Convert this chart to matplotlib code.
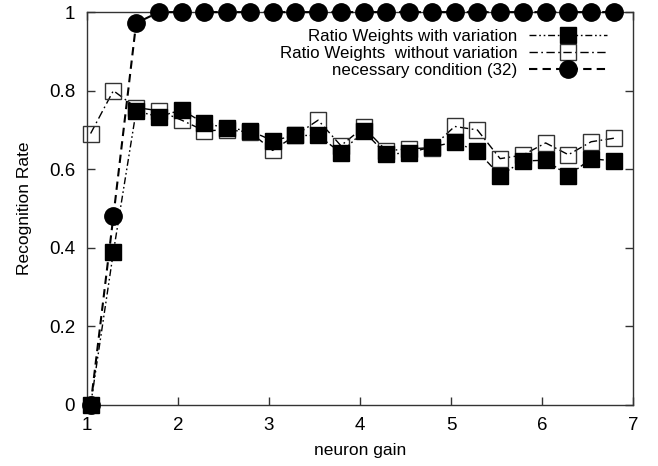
import numpy as np
import matplotlib
matplotlib.use("Agg")
import matplotlib.pyplot as plt
from matplotlib.ticker import FixedLocator, FixedFormatter

plt.rcParams['font.family'] = ['Liberation Sans', 'DejaVu Sans']

# neuron gain values
gain = [1.04, 1.29, 1.54, 1.79, 2.04, 2.29, 2.54, 2.79, 3.04, 3.29, 3.54, 3.79,
        4.04, 4.29, 4.54, 4.79, 5.04, 5.29, 5.54, 5.79, 6.04, 6.29, 6.54, 6.79]

with_var = [0.0, 0.389, 0.748, 0.734, 0.751, 0.717, 0.705, 0.698, 0.673, 0.686, 0.686, 0.642,
            0.697, 0.638, 0.642, 0.657, 0.669, 0.646, 0.584, 0.621, 0.623, 0.584, 0.627, 0.621]

without_var = [0.691, 0.800, 0.757, 0.749, 0.725, 0.698, 0.700, 0.695, 0.648, 0.686, 0.725, 0.660,
               0.707, 0.647, 0.652, 0.655, 0.709, 0.700, 0.627, 0.636, 0.667, 0.637, 0.670, 0.679]

necessary = [0.0, 0.48, 0.972, 1, 1, 1, 1, 1, 1, 1, 1, 1,
             1, 1, 1, 1, 1, 1, 1, 1, 1, 1, 1, 1]

labels = ['Ratio Weights with variation',
          'Ratio Weights  without variation',
          'necessary condition (32)']

fig = plt.figure(figsize=(6.58, 4.66), dpi=100)
ax = fig.add_axes([0.1322, 0.131, 0.8298, 0.843])

l3, = ax.plot(gain, necessary, color='black', lw=1.5, ls=(0, (4, 2.5)),
              marker='o', ms=12.5, mfc='black', mec='black', clip_on=False, zorder=3,
              label=labels[2])
l2, = ax.plot(gain, without_var, color='black', lw=1.0, ls=(0, (6, 2.5, 1.2, 2.5)),
              marker='s', ms=12, mfc='none', mec='#333333', mew=1.0, clip_on=False, zorder=4,
              label=labels[1])
l1, = ax.plot(gain, with_var, color='black', lw=1.0, ls=(0, (5, 2, 1.2, 2, 1.2, 2)),
              marker='s', ms=12, mfc='black', mec='black', clip_on=False, zorder=5,
              label=labels[0])

ax.set_xlim(1, 7)
ax.set_ylim(0, 1)
ax.xaxis.set_major_locator(FixedLocator([1, 2, 3, 4, 5, 6, 7]))
ax.yaxis.set_major_locator(FixedLocator([0, 0.2, 0.4, 0.6, 0.8, 1]))
ax.yaxis.set_major_formatter(FixedFormatter(['0', '0.2', '0.4', '0.6', '0.8', '1']))
ax.tick_params(direction='in', length=6, width=1, color='#333333', labelsize=13.5,
               top=True, right=True, pad=8.5)
for s in ax.spines.values():
    s.set_color('#333333')
    s.set_linewidth(1)
    s.set_zorder(2)

ax.set_xlabel('neuron gain', fontsize=12.5, labelpad=7)
ax.set_ylabel('Recognition Rate', fontsize=12.5, labelpad=12)

leg = ax.legend([l1, l2, l3], labels, loc='upper right', bbox_to_anchor=(0.965, 0.975),
                markerfirst=False, frameon=False, fontsize=12.2, handlelength=4.6,
                handletextpad=0.7, labelspacing=0.12, borderaxespad=0)
leg.set_zorder(6)

fig.savefig('out.png', dpi=100)
